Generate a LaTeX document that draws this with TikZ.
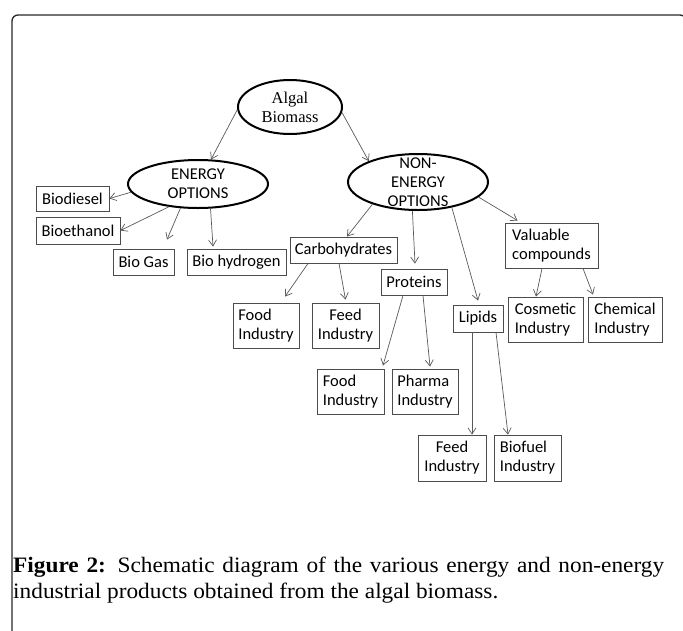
\documentclass[tikz,border=0pt]{standalone}
\usepackage{fontspec}
\setmainfont{Liberation Serif}
\newfontfamily\carlito{Carlito}
\newfontfamily\capfont[FakeStretch=1.06]{Liberation Serif}
\usetikzlibrary{shapes.geometric,arrows.meta}

\tikzset{
  box/.style={draw=black!70, line width=0.9, font=\carlito\fontsize{16.5}{19}\selectfont, inner sep=0},
  oval/.style={ellipse, draw, line width=2, inner sep=0},
  ovaltext/.style={align=center, inner sep=0},
  arr/.style={draw=black!65, line width=0.7, -{Straight Barb[length=6pt, width=8pt]}},
}

\begin{document}
\begin{tikzpicture}[x=1pt, y=-1pt]
  \useasboundingbox (0,0) rectangle (683,630);
  % frame round the figure
  \draw[black!85, line width=1.3, rounded corners=6] (12,15) rectangle (686,640);

  % the three ellipses
  \node[oval, minimum width=104, minimum height=54,
        label={[ovaltext, font=\fontsize{16.5}{19}\selectfont]center:{Algal\\Biomass}}] (algal) at (290,107) {};
  \node[oval, minimum width=140, minimum height=48,
        label={[ovaltext, font=\carlito\fontsize{16.5}{19}\selectfont]center:{ENERGY\\OPTIONS}}] (energy) at (198,184) {};
  \node[oval, minimum width=140, minimum height=56,
        label={[ovaltext, font=\carlito\fontsize{16.5}{19}\selectfont]center:{NON-\\ENERGY\\OPTIONS}}] (nonenergy) at (418,182) {};

  % product boxes: name/x/y/width/height/alignment/text
  \foreach \n/\x/\y/\w/\h/\a/\t in {
      biodiesel/72.5/198.5/73/25/center/{Biodiesel},
      bioethanol/78/230.5/84/27/center/{Bioethanol},
      biogas/143.5/262/61/26/center/{Bio Gas},
      biohydrogen/236.5/262/99/26/center/{Bio hydrogen},
      carb/343.5/250/107/26/center/{Carbohydrates},
      proteins/414/282/66/26/center/{Proteins},
      valuable/551.5/245.5/93/45/left/{Valuable\\ compounds},
      lipids/478/318.5/50/27/center/{Lipids},
      foodc/266/325.5/66/45/left/{Food\\Industry},
      feedc/345.5/325.5/67/45/center/{Feed\\Industry},
      foodp/350.5/391.5/67/45/left/{Food\\Industry},
      pharma/425/391.5/66/45/left/{Pharma\\Industry},
      cosmetic/545.5/319.5/75/45/left/{Cosmetic\\Industry},
      chemical/625/319.5/74/45/left/{Chemical\\Industry},
      feedl/452/458/68/46/center/{Feed\\Industry},
      biofuel/527.5/458/67/46/left/{Biofuel\\Industry}}{
    \node[box, align=\a, minimum width=\w, minimum height=\h] (\n) at (\x,\y) {\t};
  }

  % connectors
  \draw[arr] (algal.183) -- (energy.62);
  \draw[arr] (algal.354) -- (nonenergy.157);
  \draw[arr] (energy.187) -- (biodiesel.east);
  \draw[arr] (energy.218) -- (bioethanol.east);
  \draw[arr] (energy.234) -- ([xshift=23.5pt, yshift=9pt]biogas.north);
  \draw[arr] (energy.297) -- ([xshift=-23.5pt, yshift=2pt]biohydrogen.north);
  \draw[arr] (nonenergy.206) -- ([xshift=3.5pt]carb.north);
  \draw[arr] (nonenergy.259) -- ([xshift=1pt, yshift=5pt]proteins.north);
  \draw[arr] (nonenergy.323) -- ([yshift=4pt]lipids.north);
  \draw[arr] (nonenergy.346) -- ([xshift=13pt, yshift=2pt]valuable.north west);
  \draw[arr] ([xshift=-35.5pt]carb.south) -- ([xshift=19pt, yshift=6pt]foodc.north);
  \draw[arr] ([xshift=-4.5pt]carb.south) -- ([yshift=3pt]feedc.north);
  \draw[arr] ([xshift=-11pt]proteins.south) -- ([xshift=32.5pt, yshift=3pt]foodp.north);
  \draw[arr] ([xshift=9pt]proteins.south) -- ([xshift=5pt, yshift=2pt]pharma.north);
  \draw[arr] ([xshift=-9.5pt]valuable.south) -- ([xshift=-9.5pt]cosmetic.north);
  \draw[arr] ([xshift=31.5pt]valuable.south) -- ([xshift=-32pt, yshift=2pt]chemical.north);
  \draw[arr] ([xshift=-6pt]lipids.south) -- ([xshift=20pt]feedl.north);
  \draw[arr] ([xshift=18pt]lipids.south) -- ([xshift=-19.5pt]biofuel.north);

  % caption
  \node[anchor=base west, inner sep=0, font=\capfont\fontsize{22}{26}\selectfont] (caption1) at (13,572)
    {\makebox[651pt][s]{\textbf{Figure 2:} Schematic diagram of the various energy and non-energy}};
  \node[anchor=base west, inner sep=0, font=\capfont\fontsize{22}{26}\selectfont] (caption2) at (13,598)
    {industrial products obtained from the algal biomass.};
\end{tikzpicture}
\end{document}
